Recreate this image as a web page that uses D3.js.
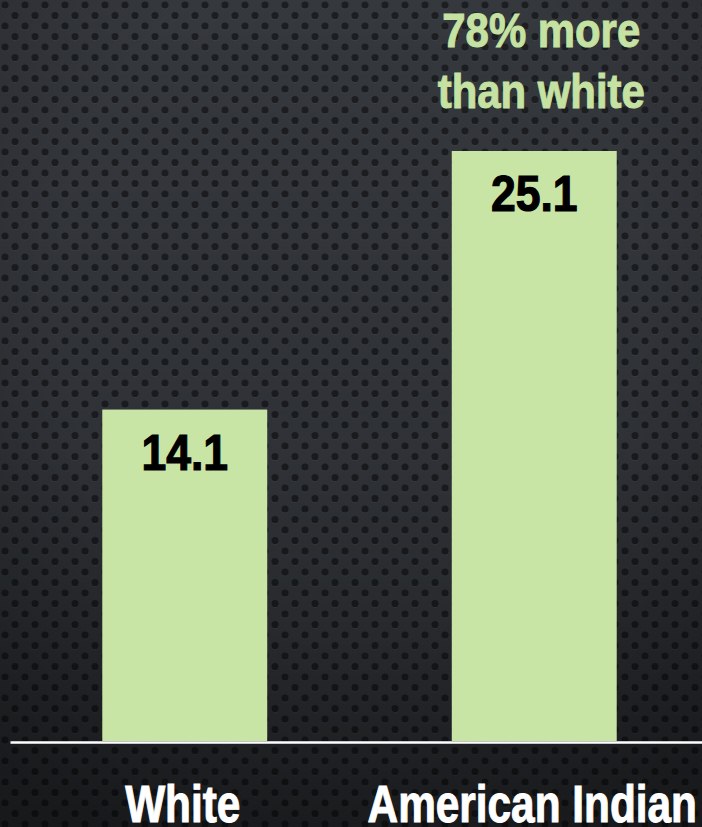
<!DOCTYPE html>
<html>
<head>
<meta charset="utf-8">
<script src="https://cdn.jsdelivr.net/npm/d3@7"></script>
<style>
  html, body { margin: 0; padding: 0; background: #2b2e33; }
  svg { display: block; }
  text { font-family: "Liberation Sans", Arial, sans-serif; font-weight: bold; }
</style>
</head>
<body>
<svg id="chart" width="702" height="827"></svg>
<script>
const categories = ["White", "American Indian"];
const values = [14.1, 25.1];
const valueLabels = ["14.1", "25.1"];
const annotationLines = ["78% more", "than white"];

const W = 702, H = 827;
const svg = d3.select("#chart");
const defs = svg.append("defs");

// dotted background pattern
const pat = defs.append("pattern").attr("id", "dots").attr("patternUnits", "userSpaceOnUse")
  .attr("width", 20).attr("height", 21);
pat.append("rect").attr("width", 20).attr("height", 21).attr("fill", "#35383d");
[[5, 5], [15, 15.5], [-5, 15.5], [25, 15.5]].forEach(([cx, cy]) => {
  pat.append("circle").attr("cx", cx).attr("cy", cy + 0.8).attr("r", 3.6).attr("fill", "#3d4046");
  pat.append("circle").attr("cx", cx).attr("cy", cy).attr("r", 3.6).attr("fill", "#1c1e22");
});
const vg = defs.append("linearGradient").attr("id", "shade").attr("x1", 0).attr("y1", 0).attr("x2", 0).attr("y2", 1);
vg.append("stop").attr("offset", "0%").attr("stop-color", "#000").attr("stop-opacity", 0.0);
vg.append("stop").attr("offset", "55%").attr("stop-color", "#000").attr("stop-opacity", 0.12);
vg.append("stop").attr("offset", "100%").attr("stop-color", "#000").attr("stop-opacity", 0.42);
const rg = defs.append("radialGradient").attr("id", "vig").attr("cx", "50%").attr("cy", "35%").attr("r", "75%");
rg.append("stop").attr("offset", "55%").attr("stop-color", "#000").attr("stop-opacity", 0);
rg.append("stop").attr("offset", "100%").attr("stop-color", "#000").attr("stop-opacity", 0.25);

svg.append("rect").attr("width", W).attr("height", H).attr("fill", "url(#dots)");
svg.append("rect").attr("width", W).attr("height", H).attr("fill", "url(#shade)");
svg.append("rect").attr("width", W).attr("height", H).attr("fill", "url(#vig)");

const baseY = 741;
const x = d3.scaleBand().domain(categories).range([10, 709]).paddingInner(0.528).paddingOuter(0.264);
const y = d3.scaleLinear().domain([0, 25.1]).range([baseY, 151]);

const barColor = "#c9e5a6";
const data = categories.map((c, i) => ({ c, v: values[i], label: valueLabels[i] }));

svg.selectAll("rect.bar").data(data).join("rect").attr("class", "bar")
  .attr("x", d => x(d.c)).attr("width", x.bandwidth())
  .attr("y", d => y(d.v)).attr("height", d => baseY - y(d.v))
  .attr("fill", barColor);

svg.selectAll("text.val").data(data).join("text").attr("class", "val")
  .attr("transform", d => `translate(${x(d.c) + x.bandwidth() / 2},${y(d.v) + 60}) scale(0.89,1)`)
  .attr("text-anchor", "middle").attr("font-size", 50).attr("fill", "#000")
  .attr("stroke", "#000").attr("stroke-width", 1.2)
  .text(d => d.label);

// axis line + category labels
const axis = d3.axisBottom(x).tickSize(0).tickPadding(0);
const ax = svg.append("g").attr("transform", `translate(0,${baseY + 1})`).call(axis);
ax.select(".domain").attr("stroke", "#ffffff").attr("stroke-width", 2.5);
ax.selectAll(".tick text").attr("fill", "#ffffff").attr("font-size", 51)
  .attr("stroke", "#ffffff").attr("stroke-width", 1)
  .attr("font-family", "Liberation Sans, Arial, sans-serif").attr("font-weight", "bold")
  .attr("dy", null).attr("y", 0)
  .attr("transform", `translate(-2,80) scale(0.83,1)`);

// annotation
const annX = x("American Indian") + x.bandwidth() / 2 + 7;
const ann = svg.append("g").attr("transform", `translate(${annX},0) scale(0.855,1)`);
ann.selectAll("text").data(annotationLines).join("text")
  .attr("x", 0).attr("y", (d, i) => 47 + i * 61)
  .attr("text-anchor", "middle").attr("font-size", 49).attr("fill", "#c6e2a3")
  .attr("stroke", "#c6e2a3").attr("stroke-width", 1)
  .text(d => d);
</script>
</body>
</html>
